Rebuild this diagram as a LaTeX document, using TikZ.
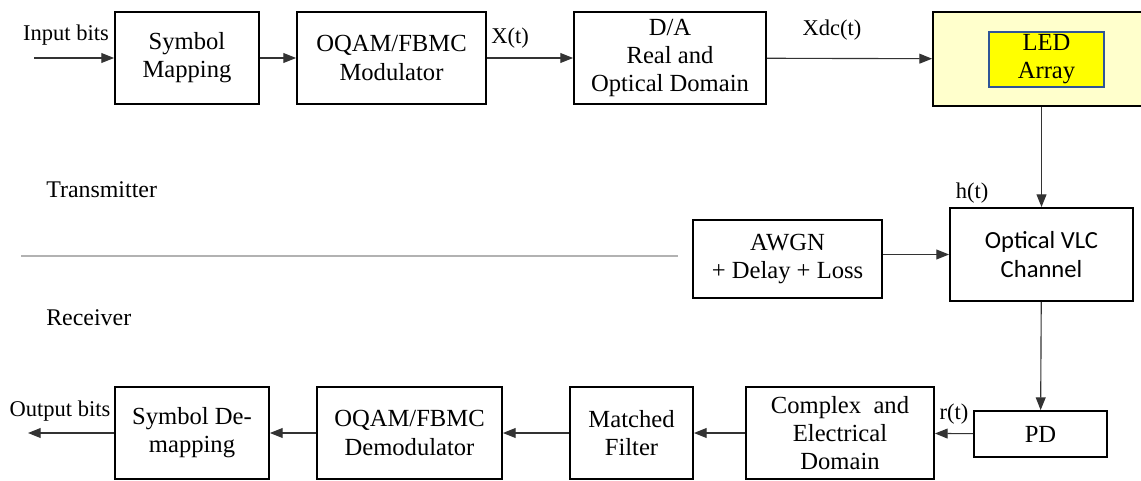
\documentclass[tikz,border=0pt]{standalone}
\usepackage{fontspec}
\setmainfont{Liberation Serif}
\newfontfamily\timesfont{Liberation Serif}
\newfontfamily\calibrifont{Carlito}
\usetikzlibrary{arrows.meta}
\definecolor{ledpale}{RGB}{255,255,204}
\definecolor{ledyellow}{RGB}{255,255,0}
\definecolor{ledblue}{RGB}{47,85,151}
\tikzset{block/.style={draw, line width=1.3pt, rectangle, align=center, inner sep=2pt, font=\timesfont\fontsize{17.5}{20}\selectfont, minimum height=2.3cm},
  sig/.style={font=\timesfont\fontsize{16}{18}\selectfont, inner sep=1pt},
  side/.style={font=\timesfont\fontsize{17}{19}\selectfont, inner sep=0pt, anchor=west},
  conn/.style={-{Triangle[length=9pt,width=7pt]}, line width=0.8pt, draw=black!80}}

\begin{document}
\begin{tikzpicture}[x=0.025cm, y=-0.025cm]
    \useasboundingbox (0,0) rectangle (1141,480);
    % transmitter chain
    \node[block, minimum width=3.6cm] (Map) at (187,58) {Symbol\\Mapping};
    \node[block, minimum width=4.725cm] (Mod) at (391.5,58) {OQAM/FBMC\\Modulator};
    \node[block, minimum width=4.8cm] (DA) at (670,58) {D/A\\Real and\\Optical Domain};
    \node[block, minimum width=5.425cm, minimum height=2.35cm, fill=ledpale] (LED) at (1041.5,59) {};
    \node[draw=ledblue, line width=1pt, fill=ledyellow, align=center, font=\timesfont\fontsize{17.5}{20}\selectfont, minimum width=2.875cm, minimum height=1.375cm, inner sep=1pt] (LEDin) at (1046.5,59.5) {LED\\Array};
    % channel
    \node[block, minimum width=4.575cm, minimum height=2.325cm, font=\calibrifont\fontsize{17.5}{21}\selectfont] (VLC) at (1041.5,254.5) {Optical VLC\\Channel};
    \node[block, minimum width=4.725cm, minimum height=1.95cm] (AWGN) at (787.5,259) {AWGN\\+ Delay + Loss};
    % receiver chain
    \node[block, minimum width=3.325cm, minimum height=1.15cm] (PD) at (1040.5,434) {PD};
    \node[block, minimum width=4.7cm] (Cplx) at (840,433) {Complex~~and\\Electrical\\Domain};
    \node[block, minimum width=3.075cm] (MF) at (631.5,433) {Matched\\Filter};
    \node[block, minimum width=4.625cm] (Demod) at (409.5,433) {OQAM/FBMC\\Demodulator};
    \node[block, minimum width=3.85cm] (Demap) at (192,433) {Symbol De-\\mapping};
    % signal labels
    \node[sig] (In) at (66,35) {Input bits};
    \node[sig] (Out) at (60,411) {Output bits};
    \node[sig] (Xt) at (510,38) {X(t)};
    \node[sig] (Xdc) at (832,30) {Xdc(t)};
    \node[sig] (ht) at (972,193) {h(t)};
    \node[sig] (rt) at (954,414) {r(t)};
    \node[side] (Tx) at (46,190) {Transmitter};
    \node[side] (Rx) at (46,318) {Receiver};
    \coordinate (InStart) at (34,58);
    \coordinate (OutEnd) at (28,433);
    \coordinate (SepL) at (21,256);
    \coordinate (SepR) at (678,256);
    \draw[black!30, line width=0.9pt] (SepL) -- (SepR);
    % connectors
    \draw[conn] (InStart) -- (Map);
    \draw[conn] (Map) -- (Mod);
    \draw[conn] (Mod) -- (DA);
    \draw[conn] (DA) -- (LED);
    \draw[conn] (LED) -- (VLC);
    \draw[conn] (AWGN.east |- VLC) -- (VLC);
    \draw[conn] (VLC) -- (PD);
    \draw[conn] (PD) -- (Cplx);
    \draw[conn] (Cplx) -- (MF);
    \draw[conn] (MF) -- (Demod);
    \draw[conn] (Demod) -- (Demap);
    \draw[conn] (Demap) -- (OutEnd);
\end{tikzpicture}
\end{document}
